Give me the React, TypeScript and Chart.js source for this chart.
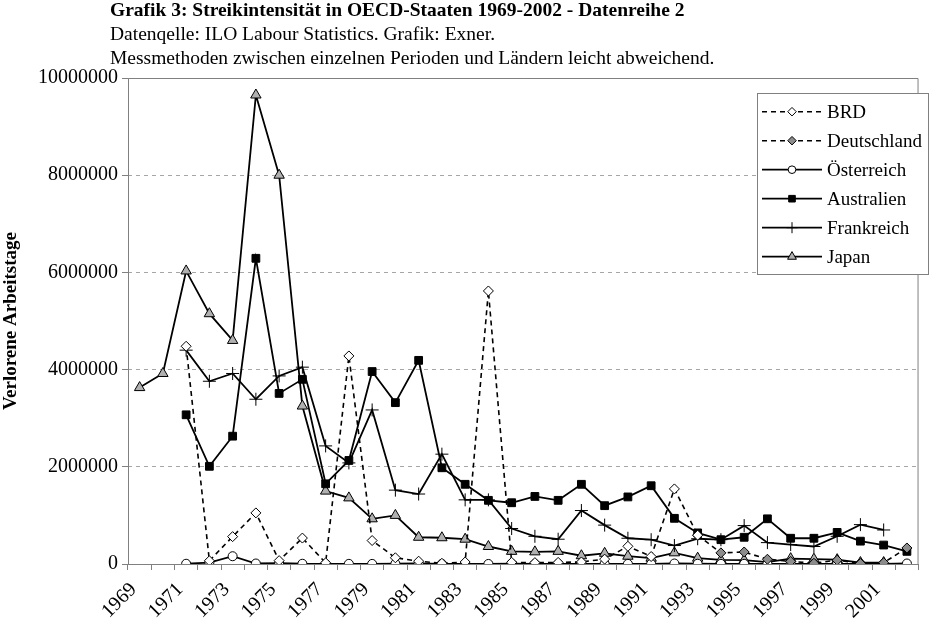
import React, { useEffect, useRef } from 'react'
import { Chart, registerables } from 'chart.js'
import { drawPoint } from 'chart.js/helpers'

Chart.register(...registerables)

const YEARS = [
  '1969', '1970', '1971', '1972', '1973', '1974', '1975', '1976', '1977', '1978',
  '1979', '1980', '1981', '1982', '1983', '1984', '1985', '1986', '1987', '1988',
  '1989', '1990', '1991', '1992', '1993', '1994', '1995', '1996', '1997', '1998',
  '1999', '2000', '2001', '2002',
]

// Verlorene Arbeitstage, null = keine Daten
const BRD = [
  null, null, 4480000, 66000, 563000, 1051000, 69000, 534000, 24000, 4281000,
  483000, 128000, 58000, 15000, 41000, 5618000, 35000, 28000, 33000, 42000,
  100000, 364000, 154000, 1545000, 593000, null, null, null, null, null,
  null, null, null, null,
]
const DEUTSCHLAND = [
  null, null, null, null, null, null, null, null, null, null,
  null, null, null, null, null, null, null, null, null, null,
  null, null, null, null, 593000, 229000, 247000, 98000, 53000, 16000,
  79000, 11000, 27000, 330000,
]
const OESTERREICH = [
  null, null, 5000, 30000, 160000, 10000, 20000, 5000, 2000, 3000,
  2000, 6000, 10000, 3000, 2000, 1000, 8000, 2000, 3000, 2000,
  3000, 2000, 3000, 10000, 5000, 2000, 3000, 2000, 1000, 2000,
  2000, 1000, 2000, 10000,
]
const AUSTRALIEN = [
  null, null, 3070000, 2010000, 2630000, 6290000, 3510000, 3800000, 1650000, 2130000,
  3960000, 3320000, 4190000, 1980000, 1640000, 1310000, 1260000, 1390000, 1310000, 1640000,
  1200000, 1380000, 1610000, 940000, 640000, 500000, 550000, 930000, 530000, 530000,
  650000, 470000, 390000, 260000,
]
const FRANKREICH = [
  null, null, 4400000, 3760000, 3920000, 3390000, 3870000, 4050000, 2430000, 2080000,
  3170000, 1520000, 1440000, 2260000, 1320000, 1320000, 730000, 570000, 510000, 1100000,
  800000, 530000, 500000, 380000, 520000, 500000, 790000, 440000, 400000, 360000,
  570000, 810000, 700000, null,
]
const JAPAN = [
  3630000, 3920000, 6030000, 5150000, 4600000, 9650000, 8000000, 3250000, 1500000, 1360000,
  930000, 1000000, 550000, 540000, 510000, 360000, 260000, 250000, 260000, 170000,
  220000, 160000, 120000, 230000, 120000, 85000, 80000, 40000, 110000, 100000,
  90000, 30000, 30000, null,
]

const Y_MAX = 10000000
const Y_STEP = 2000000

const SERIF = '"Liberation Serif", "Times New Roman", serif'

// oberer und rechter Rahmen der Zeichenfläche, dazu die linke Achse (solid)
const frame = {
  id: 'frame',
  beforeDatasetsDraw(chart: any) {
    const { ctx, chartArea } = chart
    ctx.save()
    ctx.setLineDash([])
    ctx.strokeStyle = '#808080'
    ctx.lineWidth = 1
    ctx.beginPath()
    ctx.moveTo(chartArea.left + 0.5, chartArea.bottom)
    ctx.lineTo(chartArea.left + 0.5, chartArea.top + 0.5)
    ctx.lineTo(chartArea.right - 0.5, chartArea.top + 0.5)
    ctx.lineTo(chartArea.right - 0.5, chartArea.bottom)
    ctx.stroke()
    ctx.restore()
  },
}

const boxLegend = {
  id: 'boxLegend',
  afterDatasetsDraw(chart: any) {
    const ctx = chart.ctx
    const x0 = 757
    const y0 = 93
    const w = 171
    const h = 181
    ctx.save()
    ctx.fillStyle = '#ffffff'
    ctx.fillRect(x0, y0, w, h)
    ctx.strokeStyle = '#808080'
    ctx.lineWidth = 1
    ctx.strokeRect(x0 + 0.5, y0 + 0.5, w, h)
    chart.data.datasets.forEach((ds: any, i: number) => {
      const cy = y0 + 18.7 + i * 29
      ctx.setLineDash(ds.borderDash || [])
      ctx.strokeStyle = ds.borderColor
      ctx.lineWidth = ds.borderWidth
      ctx.beginPath()
      ctx.moveTo(x0 + 5, cy)
      ctx.lineTo(x0 + 65, cy)
      ctx.stroke()
      ctx.setLineDash([])
      ctx.fillStyle = ds.pointBackgroundColor
      ctx.strokeStyle = ds.pointBorderColor
      ctx.lineWidth = ds.pointBorderWidth
      drawPoint(ctx, { pointStyle: ds.pointStyle, radius: ds.pointRadius * 0.85, rotation: 0, borderWidth: ds.pointBorderWidth }, x0 + 35, cy)
      ctx.fillStyle = '#000000'
      ctx.font = `19px ${SERIF}`
      ctx.textBaseline = 'middle'
      ctx.fillText(ds.label, x0 + 70, cy + 1)
    })
    ctx.restore()
  },
}

const line = (label: string, data: (number | null)[], style: string, fill: string, radius: number, dashed = false) => ({
  label,
  data,
  borderColor: '#000000',
  borderWidth: dashed ? 1.6 : 1.8,
  borderDash: dashed ? [5, 4] : [],
  pointStyle: style,
  pointRadius: radius,
  pointBackgroundColor: fill,
  pointBorderColor: '#000000',
  pointBorderWidth: 1,
  tension: 0,
  spanGaps: false,
  fill: false,
})

const StrikeChart: React.FC = () => {
  const ref = useRef<HTMLCanvasElement | null>(null)

  useEffect(() => {
    if (!ref.current) return
    const chart = new Chart(ref.current, {
      type: 'line',
      data: {
        labels: [...YEARS],
        datasets: [
          line('BRD', BRD, 'rectRot', '#ffffff', 5, true),
          line('Deutschland', DEUTSCHLAND, 'rectRot', '#8c8c8c', 5, true),
          line('Österreich', OESTERREICH, 'circle', '#ffffff', 4.5),
          line('Australien', AUSTRALIEN, 'rect', '#000000', 5.5),
          line('Frankreich', FRANKREICH, 'cross', '#000000', 6.5),
          line('Japan', JAPAN, 'triangle', '#b0b0b0', 6),
        ] as any,
      },
      options: {
        animation: false,
        responsive: true,
        maintainAspectRatio: false,
        layout: { padding: { top: 78, right: 4, left: 0, bottom: 0 } },
        plugins: {
          legend: { display: false },
          tooltip: { enabled: false },
        },
        scales: {
          x: {
            offset: true,
            grid: {
              display: true,
              drawOnChartArea: false,
              drawTicks: true,
              tickLength: 6,
              color: '#808080',
              offset: true,
            },
            border: { color: '#808080', width: 1 },
            ticks: {
              autoSkip: false,
              minRotation: 45,
              maxRotation: 45,
              padding: 8,
              labelOffset: -6,
              color: '#000000',
              font: { family: SERIF, size: 20 },
              callback: (_v: any, i: number) => (i % 2 === 0 ? YEARS[i] : ''),
            },
            afterFit: (scale: any) => {
              scale.height = 62
            },
          },
          y: {
            min: 0,
            max: Y_MAX,
            grid: {
              color: '#a6a6a6',
              tickBorderDash: [],
              tickColor: '#808080',
              tickLength: 6,
            } as any,
            border: { display: false, dash: [4, 4] },
            ticks: {
              stepSize: Y_STEP,
              padding: 4,
              color: '#000000',
              font: { family: SERIF, size: 20 },
              callback: (v: any) => String(v),
            },
            title: {
              display: true,
              text: 'Verlorene Arbeitstage',
              color: '#000000',
              font: { family: SERIF, size: 19, weight: 'bold' },
              padding: { top: 0, bottom: 0 },
            },
            afterFit: (scale: any) => {
              scale.width = 128
            },
          },
        },
      },
      plugins: [frame, boxLegend],
    })
    return () => chart.destroy()
  }, [])

  return <canvas ref={ref} />
}

export default function App() {
  const textStyle: React.CSSProperties = {
    fontFamily: SERIF,
    fontSize: 19.5,
    lineHeight: '24px',
    color: '#000',
    whiteSpace: 'nowrap',
  }
  return (
    <div style={{ position: 'absolute', left: 0, top: 0, width: 932, height: 626, background: '#fff', overflow: 'hidden' }}>
      <div style={{ position: 'absolute', left: 0, top: 0, width: 932, height: 626 }}>
        <StrikeChart />
      </div>
      <div style={{ position: 'absolute', left: 110, top: -2, ...textStyle }}>
        <div style={{ fontWeight: 'bold' }}>Grafik 3: Streikintensität in OECD-Staaten 1969-2002 - Datenreihe 2</div>
        <div>Datenqelle: ILO Labour Statistics. Grafik: Exner.</div>
        <div>Messmethoden zwischen einzelnen Perioden und Ländern leicht abweichend.</div>
      </div>
    </div>
  )
}
